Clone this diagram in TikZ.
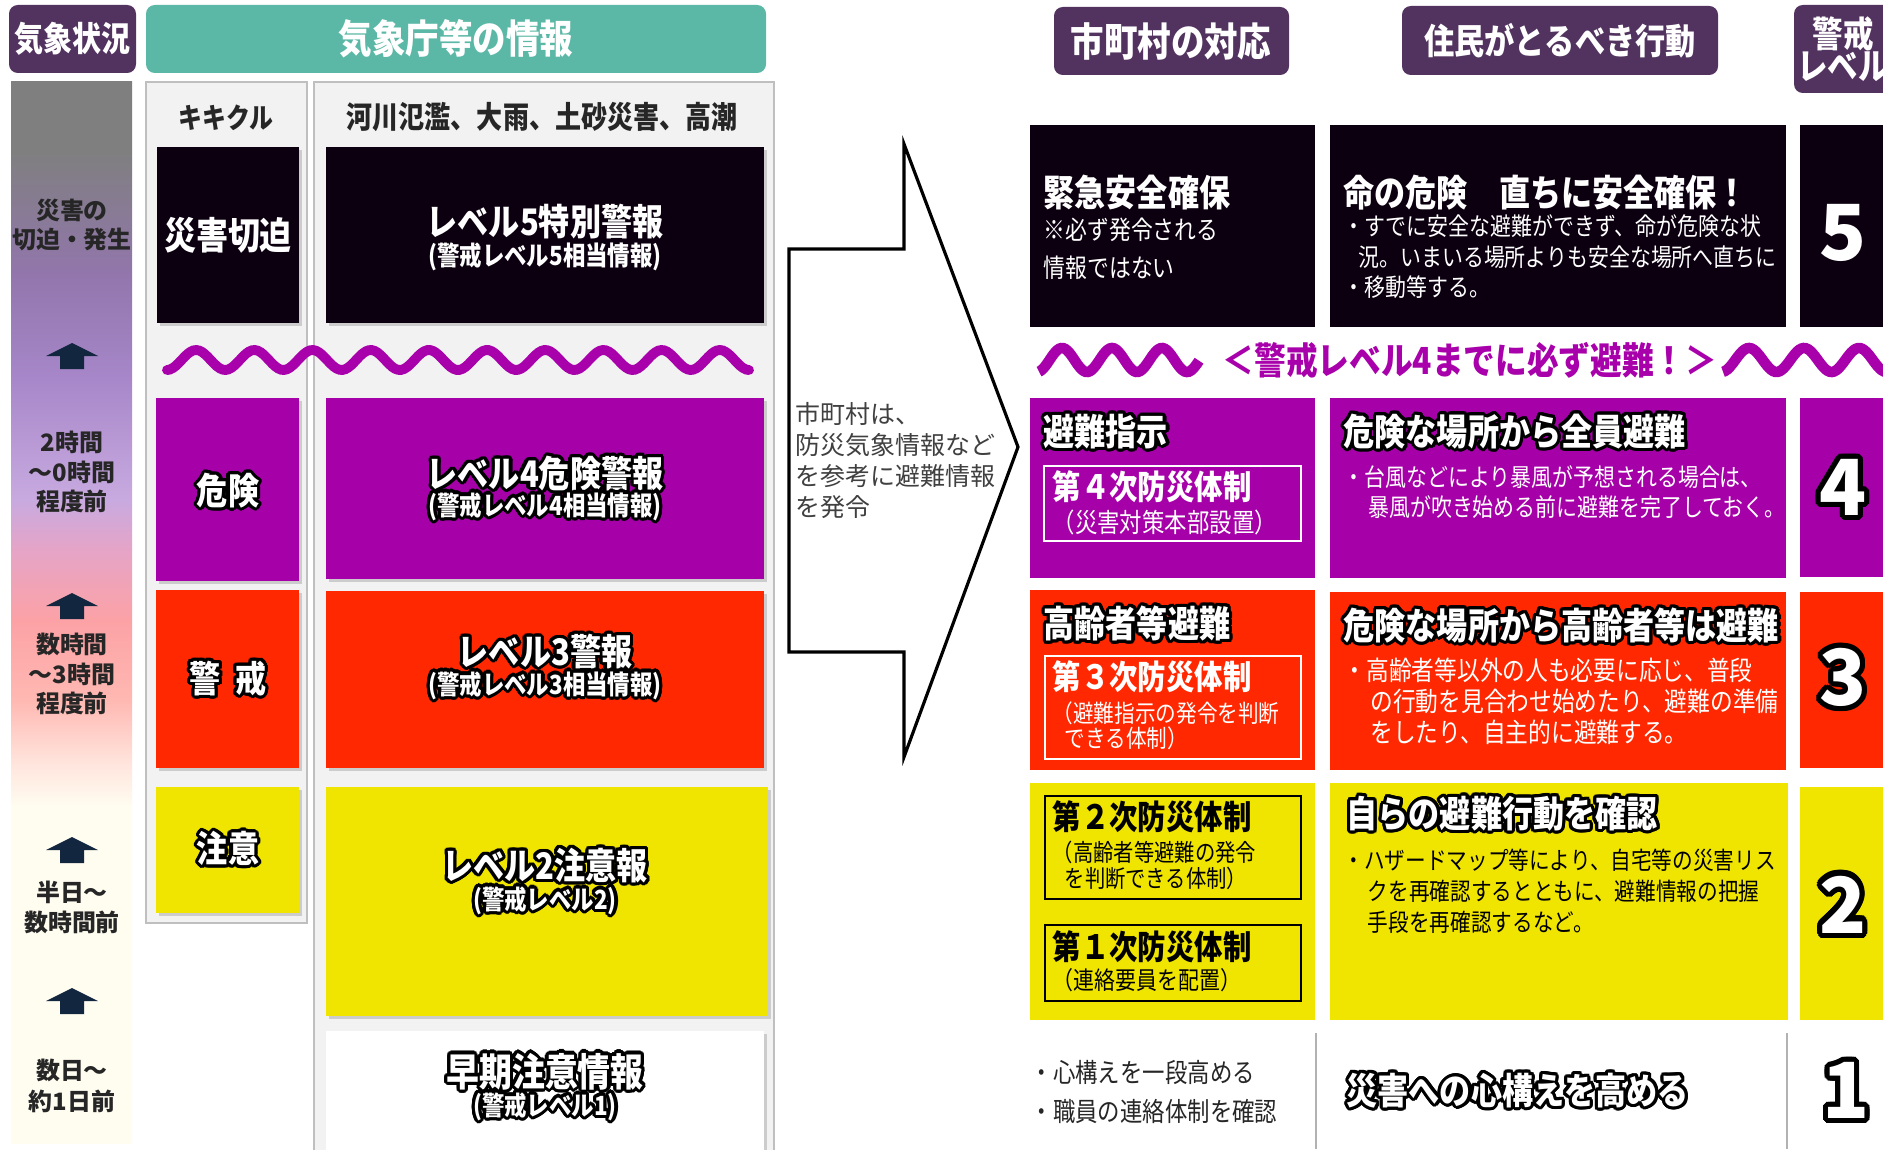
\documentclass[tikz,border=0pt]{standalone}
\usepackage{fontspec}
\setmainfont{Noto Sans CJK JP}[FakeStretch=0.85]
\newfontfamily\widejp{Noto Sans CJK JP}
\usepackage{contour}
\contourlength{0.9pt}
\contournumber{20}
\usetikzlibrary{positioning}

\definecolor{hdrpurple}{HTML}{52335F}
\definecolor{jmateal}{HTML}{5CB8A6}
\definecolor{lvfive}{HTML}{0C0010}
\definecolor{lvfour}{HTML}{A600A8}
\definecolor{lvthree}{HTML}{FF2800}
\definecolor{lvtwo}{HTML}{F0E500}
\definecolor{panelbg}{HTML}{F2F2F2}
\definecolor{panelline}{HTML}{BFBFBF}
\definecolor{wavecol}{HTML}{A800AA}
\definecolor{arrowcol}{HTML}{12263F}
\definecolor{labelcol}{HTML}{262626}
\definecolor{calltxt}{HTML}{404040}
% colours of the time bar
\definecolor{tbcream}{HTML}{FFFCF0}
\definecolor{tbpeach}{HTML}{FFE6DE}
\definecolor{tbsalmon}{HTML}{FFB8B2}
\definecolor{tbpink}{HTML}{FCA2A6}
\definecolor{tbrose}{HTML}{E6A4C6}
\definecolor{tblav}{HTML}{C8AAE0}
\definecolor{tbviolet}{HTML}{A686C8}
\definecolor{tbplum}{HTML}{9276AC}
\definecolor{tbgray}{HTML}{7F7F7F}

\pgfdeclareverticalshading{timebar}{100bp}{color(0bp)=(tbcream); color(25bp)=(tbcream);
  color(40.9bp)=(tbcream); color(42.8bp)=(tbpeach); color(45.9bp)=(tbsalmon);
  color(49.6bp)=(tbpink); color(52.9bp)=(tbrose); color(55.3bp)=(tblav);
  color(61.2bp)=(tbviolet); color(65.9bp)=(tbplum); color(71.8bp)=(tbgray);
  color(75bp)=(tbgray); color(100bp)=(tbgray)}

\newcommand{\fsz}[2]{\fontsize{#1}{#2}\selectfont}
\newcommand{\glow}[1]{\contour{black}{#1}}

\begin{document}
\begin{tikzpicture}[x=0.01cm,y=-0.01cm,
  hdrtxt/.style={text=white},
  colhead/.style={text=labelcol},
  timetxt/.style={align=center, text=labelcol, font=\widejp\bfseries\fsz{6.8}{8.5}},
  lvtitle/.style={text=white, font=\bfseries\fsz{10.4}{12}},
  lvsub/.style={text=white, font=\bfseries\fsz{7.5}{9}},
  rtitle/.style={anchor=west, text=white, font=\bfseries\fsz{10.4}{12}},
  rbody/.style={anchor=west, align=left},
  innerbox/.style={line width=0.6pt},
  bignum/.style={text=white, font=\widejp\bfseries\fsz{22}{24}}]
\tikzstyle{every node}+=[inner sep=0pt]
\useasboundingbox (0,0) rectangle (1883,1149);
\fill[white] (0,0) rectangle (1883,1149);
\clip (0,0) rectangle (1883,1149);

% headers
\fill[hdrpurple, rounded corners=2.5pt] (9,5) rectangle (136,73);
\node[hdrtxt, font=\bfseries\fsz{9.7}{11}] (kishou) at (72.5,39) {気象状況};
\fill[jmateal, rounded corners=2.5pt] (146,5) rectangle (766,73);
\node[hdrtxt, font=\bfseries\fsz{11.2}{13}] (jmainfo) at (456,39) {気象庁等の情報};
\fill[hdrpurple, rounded corners=2.5pt] (1054,7) rectangle (1289,75);
\node[hdrtxt, font=\bfseries\fsz{11.2}{13}] (cityhdr) at (1171,41) {市町村の対応};
\fill[hdrpurple, rounded corners=2.5pt] (1402,6) rectangle (1718,75);
\node[hdrtxt, font=\bfseries\fsz{10.1}{12}] (residhdr) at (1560,41) {住民がとるべき行動};
\fill[hdrpurple, rounded corners=2.5pt] (1794,5) rectangle (1910,93);
\node[hdrtxt, align=center, font=\bfseries\fsz{10.2}{9.2}] (levelhdr) at (1843,49) {警戒\\レベル};

% panels
\draw[panelline, fill=panelbg, line width=0.5pt] (146,82) rectangle (307,923);
\draw[panelline, fill=panelbg, line width=0.5pt] (314,82) rectangle (774,1170);
\node[colhead, font=\bfseries\fsz{8}{10}] (kikikuru) at (226,118) {キキクル};
\node[colhead, font=\bfseries\fsz{8.7}{10}] (hazards) at (542,117) {河川氾濫、大雨、土砂災害、高潮};

% time bar
\shade[shading=timebar] (11,82) rectangle (132,1143);
\node[timetxt] (tfive) at (72,225) {災害の\\切迫・発生};
\node[timetxt] (tfour) at (72,472) {2時間\\～0時間\\程度前};
\node[timetxt] (tthree) at (72,674) {数時間\\～3時間\\程度前};
\node[timetxt] (ttwo) at (72,907) {半日～\\数時間前};
\node[timetxt, font=\widejp\bfseries\fsz{6.8}{9}] (tone) at (72,1086) {数日～\\約1日前};
\foreach \ay in {343,593,837,988}
  \fill[arrowcol] (72,\ay) -- (98,\ay+13) -- (84,\ay+13) -- (84,\ay+26)
    -- (60,\ay+26) -- (60,\ay+13) -- (46,\ay+13) -- cycle;

% warning boxes
\foreach \xa/\ya/\xb/\yb in {157/147/299/323, 326/147/764/323, 156/398/299/581,
    326/398/764/579, 156/590/299/768, 326/591/764/768, 156/787/299/913,
    326/787/768/1016, 326/1031/764/1160}
  \fill[black!20] (\xa+3,\ya+3) rectangle (\xb+3,\yb+3);
\fill[lvfive] (157,147) rectangle (299,323);
\fill[lvfive] (326,147) rectangle (764,323);
\fill[lvfour] (156,398) rectangle (299,581);
\fill[lvfour] (326,398) rectangle (764,579);
\fill[lvthree] (156,590) rectangle (299,768);
\fill[lvthree] (326,591) rectangle (764,768);
\fill[lvtwo] (156,787) rectangle (299,913);
\fill[lvtwo] (326,787) rectangle (768,1016);
\fill[white] (326,1031) rectangle (764,1160);

\node[lvtitle, font=\bfseries\fsz{10.7}{12}] (kkfive) at (228,235) {災害切迫};
\node[lvtitle] (wfive) at (545,222) {レベル5特別警報};
\node[lvsub] (wfivesub) at (545,257) {(警戒レベル5相当情報)};
\node[lvtitle] (kkfour) at (228,492) {\glow{危険}};
\node[lvtitle] (wfour) at (545,475) {\glow{レベル4危険警報}};
\node[lvsub] (wfoursub) at (545,508) {\glow{(警戒レベル4相当情報)}};
\node[lvtitle] (kkthree) at (228,680) {\glow{警\hspace{0.4em}戒}};
\node[lvtitle] (wthree) at (545,653) {\glow{レベル3警報}};
\node[lvsub] (wthreesub) at (545,687) {\glow{(警戒レベル3相当情報)}};
\node[lvtitle] (kktwo) at (228,850) {\glow{注意}};
\node[lvtitle] (wtwo) at (545,867) {\glow{レベル2注意報}};
\node[lvsub] (wtwosub) at (545,902) {\glow{(警戒レベル2)}};
\node[lvtitle, font=\bfseries\fsz{11}{12}] (wone) at (545,1073) {\glow{早期注意情報}};
\node[lvsub] (wonesub) at (545,1108) {\glow{(警戒レベル1)}};

% squiggle
\draw[wavecol, line width=2.8pt, line cap=round] plot[domain=167:749, samples=200, smooth]
  (\x,{360+10*cos((\x-167)/58.2*360)});

% callout arrow
\draw[line width=0.9pt, fill=white] (789,249) -- (904,249) -- (904,144) -- (1018,447)
  -- (904,757) -- (904,652) -- (789,652) -- cycle;
\node[anchor=north west, align=left, text=calltxt, font=\widejp\fsz{7.1}{8.8}] (calltext) at (795,402)
  {市町村は、\\防災気象情報など\\を参考に避難情報\\を発令};

% right boxes
\fill[lvfive] (1030,125) rectangle (1315,327);
\fill[lvfive] (1330,125) rectangle (1786,327);
\fill[lvfive] (1800,125) rectangle (1900,327);
\fill[lvfour] (1030,398) rectangle (1315,578);
\fill[lvfour] (1330,398) rectangle (1786,578);
\fill[lvfour] (1800,398) rectangle (1900,577);
\fill[lvthree] (1030,590) rectangle (1315,770);
\fill[lvthree] (1330,592) rectangle (1786,770);
\fill[lvthree] (1800,592) rectangle (1900,768);
\fill[lvtwo] (1030,783) rectangle (1315,1020);
\fill[lvtwo] (1330,783) rectangle (1788,1020);
\fill[lvtwo] (1800,787) rectangle (1900,1020);
\draw[gray!60, line width=0.5pt] (1316,1033) -- (1316,1149);
\draw[gray!60, line width=0.5pt] (1787,1033) -- (1787,1149);

% level 5
\node[rtitle] (cityfive) at (1043,193) {緊急安全確保};
\node[rbody, text=white, font=\fsz{7.3}{10.8}] (cityfivenote) at (1043,249) {※必ず発令される\\情報ではない};
\node[rtitle] (resfive) at (1343,193) {命の危険　直ちに安全確保！};
\node[rbody, text=white, font=\fsz{7}{8.7}] (resfivetext) at (1343,257)
  {・すでに安全な避難ができず、命が危険な状\\\hspace*{0.6em}況。いまいる場所よりも安全な場所へ直ちに\\・移動等する。};
\node[bignum] (numfive) at (1843,233) {5};

% must evacuate line
\draw[wavecol, line width=3pt] plot[domain=1039:1199, samples=80, smooth]
  (\x,{360-12*cos((\x-1062)/50*360)});
\draw[wavecol, line width=3pt] plot[domain=1723:1895, samples=80, smooth]
  (\x,{360-12*cos((\x-1749)/55*360)});
\node[text=wavecol, font=\bfseries\fsz{10.6}{12}] (mustline) at (1470,360) {＜警戒レベル4までに必ず避難！＞};

% level 4
\node[rtitle] (cityfour) at (1043,433) {\glow{避難指示}};
\draw[innerbox, white] (1044,466) rectangle (1301,541);
\node[rtitle, font=\bfseries\fsz{9.5}{11}] (sysfour) at (1052,487) {第４次防災体制};
\node[rbody, text=white, font=\fsz{7.5}{9}] (sysfoursub) at (1052,522) {（災害対策本部設置）};
\node[rtitle] (resfour) at (1343,433) {\glow{危険な場所から全員避難}};
\node[rbody, text=white, font=\fsz{7}{8.5}] (resfourtext) at (1343,492)
  {・台風などにより暴風が予想される場合は、\\\hspace*{1em}暴風が吹き始める前に避難を完了しておく。};
\node[bignum] (numfour) at (1843,490) {\contourlength{1.5pt}\glow{4}};

% level 3
\node[rtitle] (citythree) at (1043,625) {\glow{高齢者等避難}};
\draw[innerbox, white] (1045,656) rectangle (1301,759);
\node[rtitle, font=\bfseries\fsz{9.5}{11}] (systhree) at (1052,677) {第３次防災体制};
\node[rbody, text=white, font=\fsz{6.9}{7.1}] (systhreesub) at (1052,725.5)
  {（避難指示の発令を判断\\\hspace*{0.5em}できる体制）};
\node[rtitle] (resthree) at (1343,627) {\glow{危険な場所から高齢者等は避難}};
\node[rbody, text=white, font=\fsz{7.6}{8.8}] (resthreetext) at (1343,701)
  {・高齢者等以外の人も必要に応じ、普段\\\hspace*{1em}の行動を見合わせ始めたり、避難の準備\\\hspace*{1em}をしたり、自主的に避難する。};
\node[bignum] (numthree) at (1843,680) {\contourlength{1.5pt}\glow{3}};

% level 2
\draw[innerbox, black] (1045,796) rectangle (1301,899);
\node[rtitle, text=black, font=\bfseries\fsz{9.5}{11}] (systwo) at (1052,817) {第２次防災体制};
\node[rbody, text=black, font=\fsz{6.8}{7.4}] (systwosub) at (1052,865)
  {（高齢者等避難の発令\\\hspace*{0.5em}を判断できる体制）};
\draw[innerbox, black] (1045,925) rectangle (1301,1001);
\node[rtitle, text=black, font=\bfseries\fsz{9.5}{11}] (sysone) at (1052,947) {第１次防災体制};
\node[rbody, text=black, font=\fsz{7}{9}] (sysonesub) at (1052,980) {（連絡要員を配置）};
\node[rtitle] (restwo) at (1346,815) {\glow{自らの避難行動を確認}};
\node[rbody, text=black, font=\fsz{6.9}{8.8}] (restwotext) at (1343,891)
  {・ハザードマップ等により、自宅等の災害リス\\\hspace*{1em}クを再確認するとともに、避難情報の把握\\\hspace*{1em}手段を再確認するなど。};
\node[bignum] (numtwo) at (1843,907) {\contourlength{1.5pt}\glow{2}};

% level 1
\node[rbody, text=labelcol, font=\fsz{7.5}{11}] (cityone) at (1030,1092)
  {・心構えを一段高める\\・職員の連絡体制を確認};
\node[rtitle] (resone) at (1346,1092) {\glow{災害への心構えを高める}};
\node[bignum] (numone) at (1846,1093) {\contourlength{1.5pt}\glow{1}};
\end{tikzpicture}
\end{document}
